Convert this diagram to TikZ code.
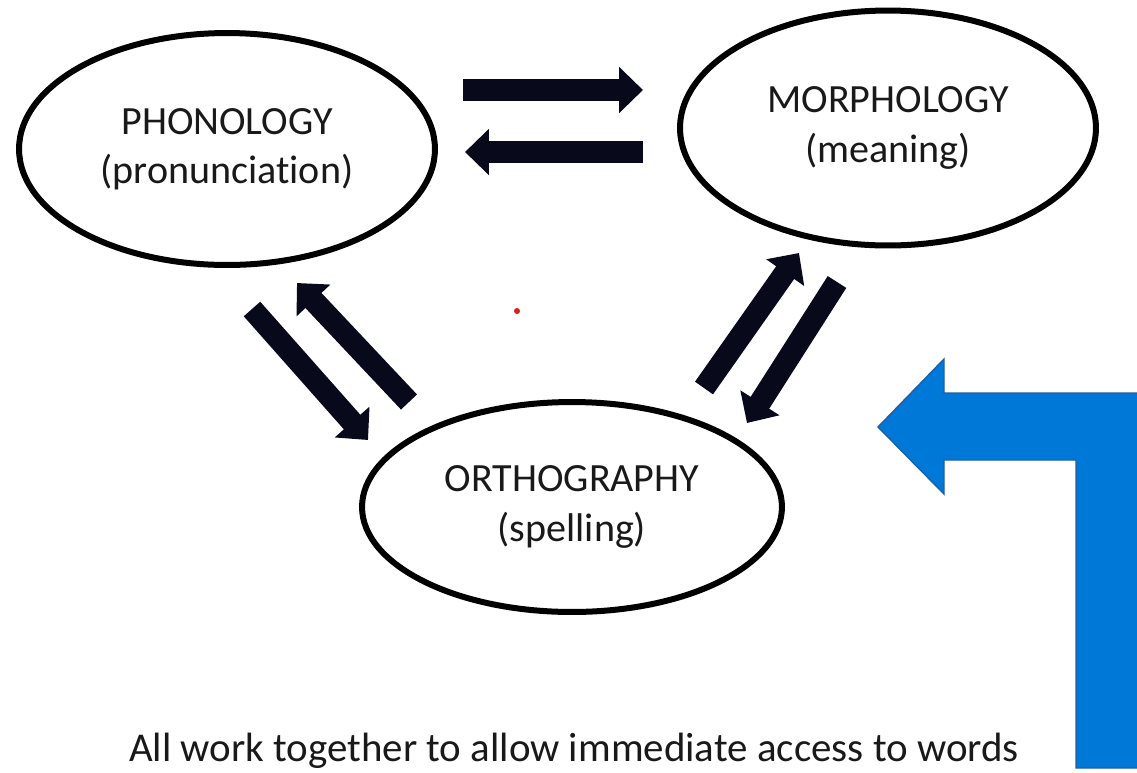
\documentclass[tikz,border=0pt]{standalone}
\usepackage{fontspec}
\setmainfont{Carlito}[Ligatures=NoCommon]
\usetikzlibrary{shapes.geometric,arrows.meta}
\definecolor{winblue}{RGB}{0,120,215}
\definecolor{winblueline}{RGB}{35,95,160}
\definecolor{arrowink}{RGB}{8,10,28}
\definecolor{dotred}{RGB}{220,30,30}
\definecolor{inktext}{RGB}{25,25,25}
\tikzset{
  bubble/.style={ellipse, draw, line width=0.12cm, inner sep=0pt, align=center,
    text=inktext, font=\fontsize{22.8}{28}\selectfont},
  fatarrow/.style={draw=arrowink, line width=0.44cm,
    -{Triangle[width=0.9cm,length=0.48cm]}},
}
\begin{document}
\begin{tikzpicture}[x=0.02cm,y=-0.02cm]
    \useasboundingbox (0,0) rectangle (1137,772);
    \clip (0,0) rectangle (1137,772);
    \node[bubble, minimum width=8.32cm, minimum height=4.64cm] (phon) at (227,149) {PHONOLOGY\\(pronunciation)};
    \node[bubble, minimum width=8.32cm, minimum height=4.7cm] (morph) at (888,128) {MORPHOLOGY\\(meaning)};
    \node[bubble, minimum width=8.4cm, minimum height=4.2cm] (orth) at (572,507) {ORTHOGRAPHY\\(spelling)};
    \coordinate (pm1) at (463,90);   \coordinate (pm2) at (643,90);
    \coordinate (mp1) at (643,152);  \coordinate (mp2) at (465,152);
    \coordinate (po1) at (252,309);  \coordinate (po2) at (368,440);
    \coordinate (op1) at (409,402);  \coordinate (op2) at (297,283);
    \coordinate (om1) at (704,388);  \coordinate (om2) at (799,253);
    \coordinate (mo1) at (837,282);  \coordinate (mo2) at (747,423);
    \draw[fatarrow] (pm1) -- (pm2);
    \draw[fatarrow] (mp1) -- (mp2);
    \draw[fatarrow] (po1) -- (po2);
    \draw[fatarrow] (op1) -- (op2);
    \draw[fatarrow] (om1) -- (om2);
    \draw[fatarrow] (mo1) -- (mo2);
    \fill[dotred] (517,311) circle (3);
    \draw[winblueline, fill=winblue, line width=0.8pt] (878,427) -- (944,359) -- (944,393) -- (1143,393) -- (1143,768)
        -- (1076,768) -- (1076,460) -- (944,460) -- (944,494) -- cycle;
    \node[anchor=base, text=inktext, font=\fontsize{23.3}{28}\selectfont] (caption) at (574,761) {All work together to allow immediate access to words};
\end{tikzpicture}
\end{document}
